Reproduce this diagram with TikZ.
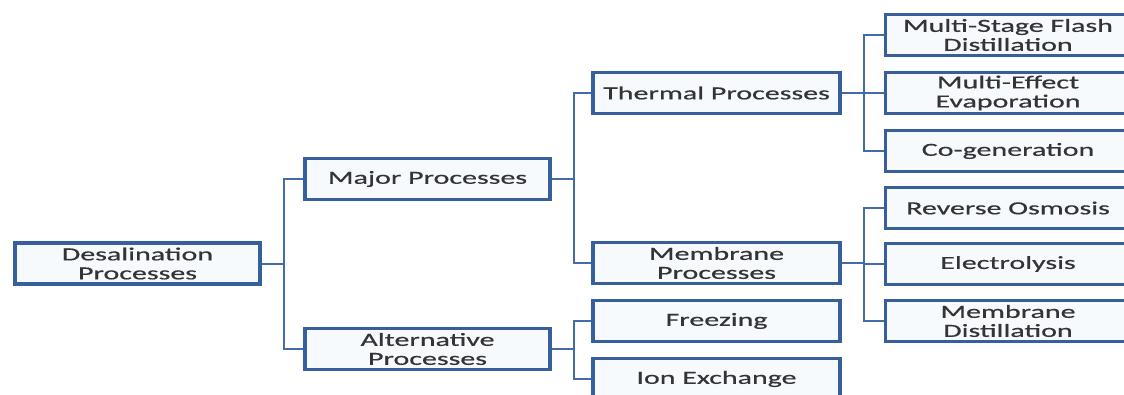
\documentclass[tikz,border=0pt]{standalone}
\usepackage{fontspec}
\newfontfamily\boxfont[FakeStretch=1.62,FakeBold=0.6]{Carlito}
\definecolor{boxline}{RGB}{54,95,155}
\definecolor{connline}{RGB}{66,108,166}
\definecolor{boxfill}{RGB}{247,250,253}
\definecolor{txt}{RGB}{52,52,56}
\tikzset{
  pbox/.style={draw=boxline, line width=3.6pt, fill=boxfill, rectangle,
    minimum width=245pt, minimum height=41pt, inner sep=0pt, align=center,
    text=txt, font=\boxfont\fontsize{18.5}{19}\selectfont},
  conn/.style={draw=connline, line width=2pt}
}
\begin{document}
\begin{tikzpicture}[x=1pt,y=-1pt]
\useasboundingbox (0,0) rectangle (1124,394);
\fill[white] (0,0) rectangle (1124,394);
\clip (0,0) rectangle (1124,394);
% nodes
\node[pbox] (desal) at (137.5,263.5) {Desalination\\Processes};
\node[pbox] (major) at (427.5,179) {Major Processes};
\node[pbox] (alt) at (427.5,349) {Alternative\\Processes};
\node[pbox, minimum width=247pt] (thermal) at (716.5,93) {Thermal Processes};
\node[pbox, minimum width=247pt] (membrane) at (716.5,263) {Membrane\\Processes};
\node[pbox, minimum width=247pt] (freeze) at (716.5,321) {Freezing};
\node[pbox, minimum width=247pt] (ion) at (716.5,379) {Ion Exchange};
\node[pbox] (msf) at (1008,35) {Multi-Stage Flash\\Distillation};
\node[pbox] (mee) at (1008,93) {Multi-Effect\\Evaporation};
\node[pbox] (cogen) at (1008,151) {Co-generation};
\node[pbox] (ro) at (1008,208) {Reverse Osmosis};
\node[pbox] (elec) at (1008,264) {Electrolysis};
\node[pbox] (md) at (1008,321) {Membrane\\Distillation};
% connectors
\draw[conn] (desal.east) -- ++(22,0) |- (major.west);
\draw[conn] (desal.east) -- ++(22,0) |- (alt.west);
\draw[conn] (major.east) -- ++(22,0) |- (thermal.west);
\draw[conn] (major.east) -- ++(22,0) |- (membrane.west);
\draw[conn] (alt.east) -- ++(22,0) |- (freeze.west);
\draw[conn] (alt.east) -- ++(22,0) |- (ion.west);
\draw[conn] (thermal.east) -- ++(22,0) |- (msf.west);
\draw[conn] (thermal.east) -- ++(22,0) |- (mee.west);
\draw[conn] (thermal.east) -- ++(22,0) |- (cogen.west);
\draw[conn] (membrane.east) -- ++(22,0) |- (ro.west);
\draw[conn] (membrane.east) -- ++(22,0) |- (elec.west);
\draw[conn] (membrane.east) -- ++(22,0) |- (md.west);
\end{tikzpicture}
\end{document}
